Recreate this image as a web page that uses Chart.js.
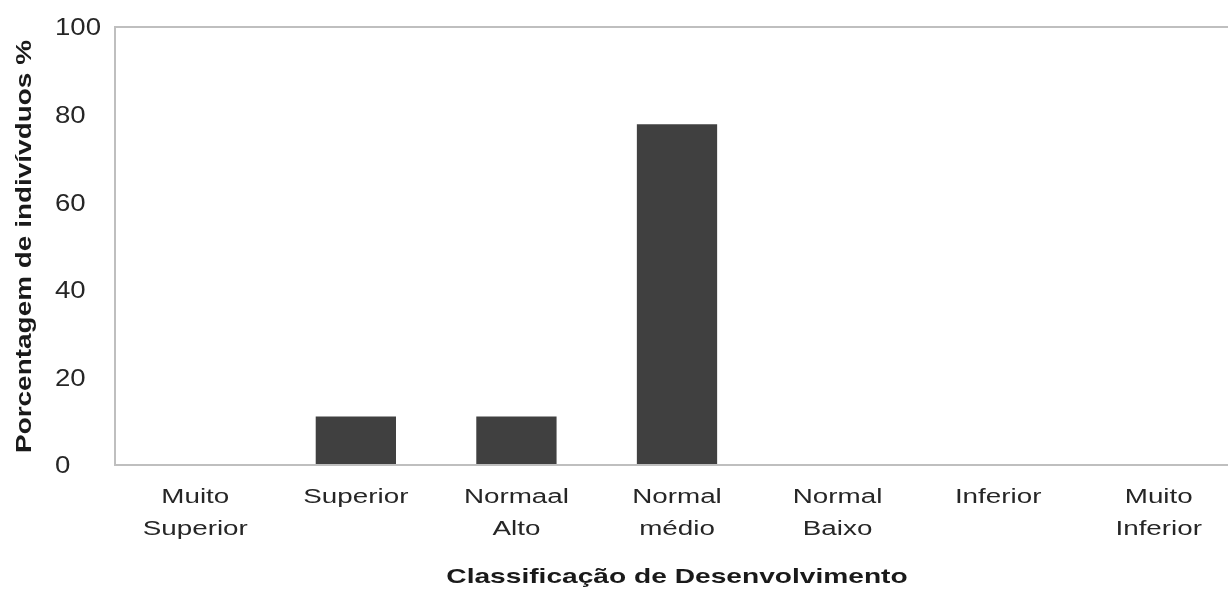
<!DOCTYPE html>
<html>
<head>
<meta charset="utf-8">
<script src="https://cdn.jsdelivr.net/npm/chart.js@4.4.0/dist/chart.umd.min.js"></script>
<style>
  html, body { margin: 0; padding: 0; background: #fff; overflow: hidden; }
  /* the plot runs slightly past the right edge, like the original crop */
  #wrap { width: 1228px; height: 590px; overflow: hidden; }
  #chart { display: block; }
</style>
</head>
<body>
<div id="wrap"><canvas id="chart" width="1239" height="590"></canvas></div>
<script>
// --- data ---
const categories = [
    ['Muito', 'Superior'],
    'Superior',
    ['Normaal', 'Alto'],
    ['Normal', 'médio'],
    ['Normal', 'Baixo'],
    'Inferior',
    ['Muito', 'Inferior']
];
const percentages = [0, 11.1, 11.1, 77.8, 0, 0, 0];
const yTicks = [0, 20, 40, 60, 80, 100];

const fontFamily = '"Liberation Sans", Arial, sans-serif';
const axisGray = '#bfbfbf';
const textColor = '#262626';

// the original figure's text is drawn wide, so stretch each string along its own direction
// (keyed by font size: sx = stretch, dx = shift along the text, dy = shift across it)
const textTweaks = {
    20: { sx: 1.39, dx: 0, dy: 0 },   // x tick labels
    23: { sx: 1.2, dx: 0, dy: 2 },    // y tick labels
    21: { sx: 1.34, dx: 0, dy: 0 },   // x title
    22: { sx: 1.27, dx: 62, dy: 0 }   // y title
};
const canvas = document.getElementById('chart');
const ctx = canvas.getContext('2d');
const plainFillText = ctx.fillText;
ctx.fillText = function(text, x, y) {
    const m = /(\d+)px/.exec(this.font);
    const t = (m && textTweaks[m[1]]) || { sx: 1, dx: 0, dy: 0 };
    this.save();
    this.translate(x + t.dx, y + t.dy);
    this.scale(t.sx, 1);
    plainFillText.call(this, text, 0, 0);
    this.restore();
};

new Chart(ctx, {
    type: 'bar',
    data: {
        labels: categories,
        datasets: [{
            data: percentages,
            backgroundColor: '#404040',
            borderWidth: 0,
            categoryPercentage: 1,
            barPercentage: 0.5
        }]
    },
    options: {
        responsive: false,
        animation: false,
        layout: { padding: { top: 27, right: 0, left: 0, bottom: 0 } },
        plugins: {
            legend: { display: false },
            tooltip: { enabled: false },
            title: {
                display: true,
                position: 'left',
                text: 'Porcentagem de indivívduos %',
                color: '#1a1a1a',
                font: { family: fontFamily, size: 22, weight: 'bold', lineHeight: 1.2 },
                padding: { top: 11.8, bottom: 16.8 }
            }
        },
        scales: {
            x: {
                grid: { display: false, drawTicks: false },
                border: { color: axisGray, width: 2 },
                ticks: {
                    color: textColor,
                    font: { family: fontFamily, size: 20, lineHeight: 1.6 },
                    padding: 16,
                    maxRotation: 0,
                    autoSkip: false
                },
                title: {
                    display: true,
                    text: 'Classificação de Desenvolvimento',
                    color: '#1a1a1a',
                    font: { family: fontFamily, size: 21, weight: 'bold', lineHeight: 1.2 },
                    padding: { top: 0, bottom: 0.4 }
                },
                afterFit: (scale) => { scale.height = 125; }
            },
            y: {
                min: 0,
                max: 100,
                afterBuildTicks: (scale) => {
                    scale.ticks = yTicks.map(v => ({ value: v }));
                },
                grid: {
                    drawTicks: false,
                    lineWidth: 2,
                    color: (c) => c.tick && c.tick.value === 100 ? axisGray : 'rgba(0,0,0,0)'
                },
                border: { color: axisGray, width: 2 },
                ticks: {
                    color: textColor,
                    font: { family: fontFamily, size: 23 },
                    crossAlign: 'far'
                },
                afterFit: (scale) => { scale.width = 60; }
            }
        }
    }
});
</script>
</body>
</html>
